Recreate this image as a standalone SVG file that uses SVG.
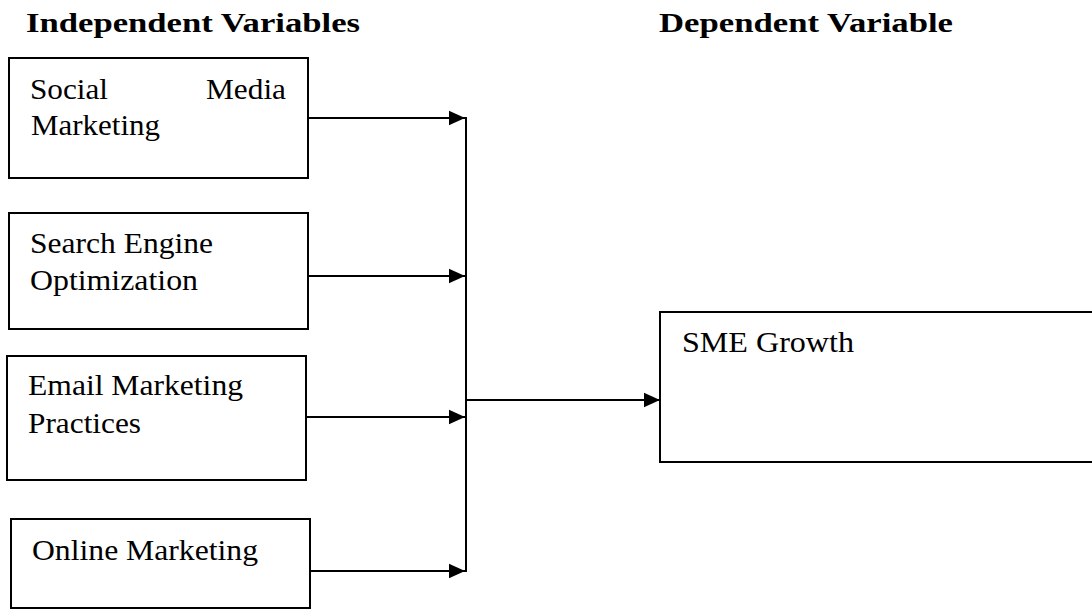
<svg xmlns="http://www.w3.org/2000/svg" width="1092" height="609" viewBox="0 0 1092 609" font-family="Liberation Serif, serif">
<style>
.box{fill:#fff;stroke:#000;stroke-width:2}
.t{font-size:29px;fill:#000}
.h{font-size:27px;font-weight:bold;fill:#000}
.ln{stroke:#000;stroke-width:2;fill:none}
</style>
<defs>
<marker id="ah" viewBox="0 0 10 10" refX="10" refY="5" markerWidth="16" markerHeight="16" markerUnits="userSpaceOnUse" orient="auto">
<path d="M0,0.5 L10,5 L0,9.5 z" fill="#000"/>
</marker>
</defs>
<rect width="1092" height="609" fill="#fff"/>
<text class="h" x="26" y="32" textLength="334" lengthAdjust="spacingAndGlyphs">Independent Variables</text>
<text class="h" x="659" y="32" textLength="294" lengthAdjust="spacingAndGlyphs">Dependent Variable</text>
<g id="n1">
<rect class="box" x="9" y="58" width="299" height="120"/>
<text class="t" x="30" y="99" textLength="78" lengthAdjust="spacingAndGlyphs">Social</text>
<text class="t" x="206" y="99" textLength="80" lengthAdjust="spacingAndGlyphs">Media</text>
<text class="t" x="31" y="135" textLength="129" lengthAdjust="spacingAndGlyphs">Marketing</text>
</g>
<g id="n2">
<rect class="box" x="9" y="213" width="299" height="116"/>
<text class="t" x="30" y="253" textLength="183" lengthAdjust="spacingAndGlyphs">Search Engine</text>
<text class="t" x="30" y="290" textLength="168" lengthAdjust="spacingAndGlyphs">Optimization</text>
</g>
<g id="n3">
<rect class="box" x="7" y="356" width="299" height="124"/>
<text class="t" x="28" y="395" textLength="215" lengthAdjust="spacingAndGlyphs">Email Marketing</text>
<text class="t" x="28" y="433" textLength="113" lengthAdjust="spacingAndGlyphs">Practices</text>
</g>
<g id="n4">
<rect class="box" x="11" y="519" width="299" height="89"/>
<text class="t" x="32" y="560" textLength="226" lengthAdjust="spacingAndGlyphs">Online Marketing</text>
</g>
<g id="n5">
<rect class="box" x="660" y="312" width="440" height="150"/>
<text class="t" x="682" y="352" textLength="172" lengthAdjust="spacingAndGlyphs">SME Growth</text>
</g>
<g id="connectors">
<line class="ln" x1="308" y1="118" x2="465" y2="118" marker-end="url(#ah)"/>
<line class="ln" x1="308" y1="276" x2="465" y2="276" marker-end="url(#ah)"/>
<line class="ln" x1="306" y1="417" x2="465" y2="417" marker-end="url(#ah)"/>
<line class="ln" x1="310" y1="571" x2="465" y2="571" marker-end="url(#ah)"/>
<line class="ln" x1="466" y1="117" x2="466" y2="572"/>
<line class="ln" x1="466" y1="400" x2="660" y2="400" marker-end="url(#ah)"/>
</g>
</svg>
